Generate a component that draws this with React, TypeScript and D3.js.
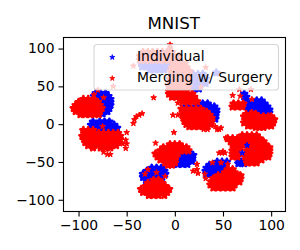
import { useEffect, useRef } from 'react';
import * as d3 from 'd3';

type Row = number[];

const blueRows: Row[] = [
  // upper left
  [41, -82, -77, -72], [37, -84, -79, -74, -69], [33, -80, -75, -70, -67], [29, -76, -71, -67],
  [25, -75, -70, -67], [21, -76, -71, -68], [17, -78, -73, -70], [14, -75],
  // middle left
  [3, -85, -78, -73, -68], [-1, -87, -82, -77, -72, -67, -63], [-5, -84, -79, -74, -69, -64, -60],
  [-9, -83, -78, -73, -68, -63],
  // bottom
  [-58, -24, -19, -14], [-62, -29, -24, -19, -14, -11], [-66, -33, -28, -23, -18, -13, -10],
  [-70, -33, -28, -23, -18, -13], [-74, -30, -25, -20],
  // centre
  [-37, 9, 14], [-41, 5, 10, 15, 19], [-45, 3, 8, 13, 18], [-49, 3, 8, 13, 18], [-53, 3, 8, 13],
  // lower right
  [-50, 44, 49, 54], [-54, 36, 41, 46, 51], [-58, 33, 38, 43, 48], [-62, 32, 37, 42, 47], [-66, 33, 38, 43], [-70, 40],
  // right
  [-47, 66], [-50, 70], [-52, 66, 72],
  // upper centre
  [27, 29, 34], [23, 10, 15, 22, 27, 32, 37, 41], [19, 30, 35, 40, 43], [15, 35, 40, 43], [11, 38, 42], [7, 42],
  // top (behind legend)
  [81, -35, -30, -25, -20, -15, -10, -6], [76, -34, -29, -24, -19, -14, -9], [72, -26, -21, -16, -11],
  [66, 19, 24, 29], [68, 43], [60, 18, 23, 28, 32], [54, 18, 23, 28, 32], [47, 20, 25],
  // upper right
  [40, 72], [36, 74], [32, 73], [28, 75],
  [31, 85, 90], [27, 78, 83, 88, 93], [23, 76, 81, 86, 91, 96], [19, 76, 81, 86, 91, 96, 98], [15, 90, 95, 98],
];

const blueOverRows: Row[] = [
  [-38, 70], [-28, 75],
];

const redRows: Row[] = [
  // upper left
  [33, -95, -90, -85], [29, -100, -95, -90, -85, -80], [25, -103, -98, -93, -88, -83, -78],
  [21, -105, -100, -95, -90, -85, -80, -76], [17, -103, -98, -93, -88, -83, -78], [13, -98, -93, -88, -83, -79],
  // middle left
  [-8, -95, -90, -85], [-12, -94, -89, -84, -79, -74, -69, -64, -59],
  [-16, -96, -91, -86, -81, -76, -71, -66, -61, -57], [-20, -94, -89, -84, -79, -74, -69, -64, -59, -57],
  [-24, -93, -88, -83, -78, -73, -68, -63, -59], [-28, -90, -85, -80, -75, -70, -65, -61], [-31, -85, -77, -72, -67],
  // bottom
  [-74, -22, -17], [-78, -28, -23, -18, -13], [-82, -30, -25, -20, -15, -10],
  [-86, -35, -30, -25, -20, -15, -10, -6], [-90, -33, -28, -23, -18, -13, -8], [-94, -27, -22, -17, -11],
  // centre
  [-27, -5, 0, 5], [-31, -12, -7, -2, 3, 8, 12], [-35, -15, -10, -5, 0, 5, 10, 14], [-39, -20, -15, -10, -5, 0, 3],
  [-43, -18, -13, -8, -3, 1], [-47, -15, -10, -5, 0], [-51, -10, -5, 0], [-54, -7, -3],
  // lower right
  [-60, 55, 60], [-64, 52, 57, 62], [-68, 45, 50, 55, 60, 65, 68],
  [-72, 40, 45, 50, 55, 60, 65, 68], [-76, 38, 43, 48, 53, 58, 63, 67], [-80, 37, 42, 47, 52, 57, 62], [-84, 40, 45, 50, 55, 60],
  // right
  [-15, 70, 75, 80, 85], [-19, 55, 60, 65, 70, 75, 80, 85, 88], [-23, 58, 63, 68, 73, 78, 83, 88, 92],
  [-27, 60, 65, 70, 80, 85, 90, 94], [-31, 63, 68, 78, 83, 88, 93, 98], [-35, 60, 65, 75, 80, 85, 90, 95, 98],
  [-39, 60, 65, 75, 80, 85, 90, 95, 98], [-43, 60, 65, 73, 78, 83, 88, 93, 97], [-47, 75, 80, 85, 90], [-51, 75, 80, 85],
  // upper centre, under and below the legend
  [95, -33, -28, -23, -18, -13, -8, -3],
  [90, -36, -31, -26, -21, -16, -11, -6, -1, 4], [85, -36, -31, -26, -21, -16, -11, -6, -1, 4],
  [80, -2, 3, 8], [75, -3, 2, 7, 12], [70, -4, 1, 6, 11, 15], [65, -3, 2, 7, 12, 15],
  [60, -5, 0, 5, 10, 14], [55, -5, 0, 5, 10, 15], [50, -6, -1, 4, 9, 14],
  [44, -6, -2, 3, 8, 12], [40, -6, -1, 4, 9, 13, 18], [36, -3, 2, 7, 12, 17, 20], [30, 8, 13, 18, 23],
  [20, 7, 12, 17, 22, 27], [16, 9, 14, 19, 24, 29, 33], [12, 8, 13, 18, 23, 28, 33, 36],
  [8, 10, 15, 20, 25, 30, 35, 38], [4, 10, 15, 20, 25, 30, 35, 38], [0, 12, 17, 22, 27, 32, 37], [-3, 15, 20, 25, 30, 34],
  // upper right
  [27, 61, 66, 71], [23, 60, 65, 70],
  [13, 74, 79, 84], [10, 72, 77, 82, 87, 92, 97, 100], [6, 74, 79, 84, 89, 94, 99, 103],
  [2, 72, 77, 82, 87, 92, 97, 102], [-2, 76, 81, 86, 91, 96, 100], [-4, 84, 88, 92],
];

// loose stars that sit apart from the clusters, or on top of the blue
const redStrayRows: Row[] = [
  [39, -84], [35, -74], [45, -80], [-3, -75],
  [-37, -74], [-40, -70, -67],
  [-21, -51], [-26, -50, -54], [-32, -51], [-11, -50, -1],
  [1, -43], [6, -42], [10, -40], [12, -37], [14, -34], [35, -22], [12, -2, 3], [28, 3], [-25, -20],
  [-60, -28], [-64, -19], [-66, -31], [-69, -10],
  [-53, 23], [-60, 23], [-62, 19], [-65, 24],
  [-51, 39, 48], [-53, 55], [-66, 31], [-72, 32],
  [-38, 46, 49, 52], [-36, 50], [-18, 53], [-20, 56], [-7, 30, 34, 44, 46], [-3, 42], [-5, 48],
  [105, -5], [101, -5], [50, -64], [77, -43], [75, 32], [81, 12], [49, 27],
  [38, 60], [37, 68], [33, 80], [46, 67, 79], [16, 80],
];

const xTicks = [-100, -50, 0, 50, 100];
const yTicks = [-100, -50, 0, 50, 100];
const legendLabels = ['Individual', 'Merging w/ Surgery'];
const legendColors = ['#0000ff', '#ff0000'];

const toPoints = (rows: Row[]) => rows.flatMap(([y, ...xs]) => xs.map(x => [x, y] as [number, number]));

export default function App() {
  const ref = useRef<SVGSVGElement>(null);

  useEffect(() => {
    const svg = d3.select(ref.current);
    svg.selectAll('*').remove();

    const left = 63.5, right = 285.5, top = 37.5, bottom = 211.5;
    const x = d3.scaleLinear().domain([-115.6, 114.9]).range([left, right]);
    const y = d3.scaleLinear().domain([-115.5, 114.6]).range([bottom, top]);
    const font = 'DejaVu Sans';

    const star = d3.symbol().type(d3.symbolStar).size(10)();
    const legendStar = d3.symbol().type(d3.symbolStar).size(8)();
    const bulkStar = d3.symbol().type(d3.symbolStar).size(11)();

    const drawStars = (rows: Row[], color: string, shape: string | null, sw: number) => {
      svg.append('g').selectAll('path').data(toPoints(rows)).join('path')
        .attr('d', shape)
        .attr('transform', d => `translate(${x(d[0])},${y(d[1])})`)
        .attr('fill', color)
        .attr('stroke', color)
        .attr('stroke-width', sw)
        .attr('stroke-linejoin', 'round');
    };

    drawStars(blueRows, legendColors[0], bulkStar, 2.6);
    drawStars(redRows, legendColors[1], bulkStar, 2.6);
    drawStars(redStrayRows, legendColors[1], star, 1);
    drawStars(blueOverRows, legendColors[0], star, 1);

    // axes
    const xAxis = svg.append('g').attr('transform', `translate(0,${bottom})`)
      .call(d3.axisBottom(x).tickValues(xTicks).tickSize(5).tickPadding(4).tickFormat(d => String(d).replace('-', '\u2212')));
    const yAxis = svg.append('g').attr('transform', `translate(${left},0)`)
      .call(d3.axisLeft(y).tickValues(yTicks).tickSize(5).tickPadding(4).tickFormat(d => String(d).replace('-', '\u2212')));
    [xAxis, yAxis].forEach(a => {
      a.select('.domain').remove();
      a.selectAll('line').attr('stroke', '#000').attr('stroke-width', 1.1);
      a.selectAll('text').attr('fill', '#000').style('font-family', font).style('font-size', '13.9px');
    });

    svg.append('rect')
      .attr('x', left).attr('y', top).attr('width', right - left).attr('height', bottom - top)
      .attr('fill', 'none').attr('stroke', '#000').attr('stroke-width', 1.1);

    // legend
    svg.append('rect')
      .attr('x', 94).attr('y', 44.5).attr('width', 184.5).attr('height', 45.5).attr('rx', 3)
      .attr('fill', '#fff').attr('fill-opacity', 0.8).attr('stroke', '#ccc').attr('stroke-opacity', 0.8).attr('stroke-width', 1.1);
    legendLabels.forEach((label, i) => {
      const ly = 57.3 + i * 21;
      svg.append('path').attr('d', legendStar).attr('transform', `translate(112.3,${ly})`)
        .attr('fill', legendColors[i]).attr('stroke', legendColors[i]).attr('stroke-width', 0.8);
      svg.append('text').attr('x', 137).attr('y', ly + 4).attr('fill', '#000')
        .style('font-family', font).style('font-size', '13.9px').text(label);
    });

    svg.append('text')
      .attr('x', 173.7).attr('y', 29).attr('text-anchor', 'middle').attr('fill', '#000')
      .style('font-family', font).style('font-size', '16.67px').text('MNIST');
  }, []);

  return <svg ref={ref} width={300} height={250} style={{ position: 'absolute', left: 0, top: 0, background: '#fff' }} />;
}
